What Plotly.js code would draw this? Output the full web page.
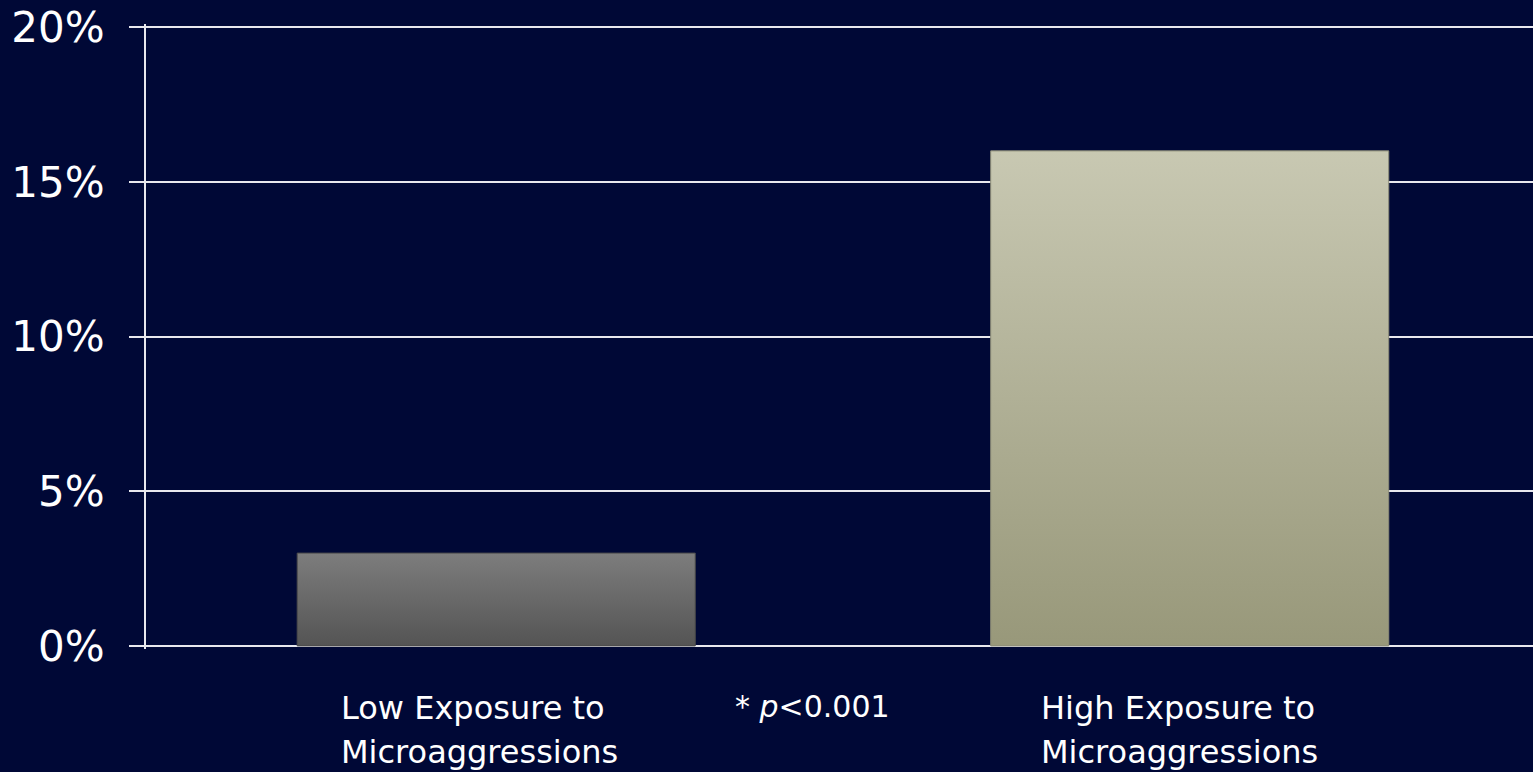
<!DOCTYPE html>
<html>
<head>
<meta charset="utf-8">
<script src="https://cdn.plot.ly/plotly-3.0.1.min.js"></script>
<style>
html,body{margin:0;padding:0;background:#000836;}
#chart{width:1533px;height:772px;}
</style>
</head>
<body>
<div id="chart"></div>
<script>
const categories = ["Low Exposure to<br>Microaggressions", "High Exposure to<br>Microaggressions"];
const values = [3.0, 16.0];
const yTickVals = [0, 5, 10, 15, 20];
const yTickText = ["0%", "5%", "10%", "15%", "20%"];
const note = "* <i>p</i><0.001";

const FONT = "'DejaVu Sans', sans-serif";
const BG = "#000836";
const LINE = "#e8e8ee";
const labelShift = [-157, -151];

const trace = {
  type: "bar",
  x: [0, 1],
  y: values,
  marker: {
    color: ["#6a6a6a", "#b2b29a"],
    line: {color: ["#4a4a4a", "#8a8a76"], width: 1}
  },
  hoverinfo: "skip"
};

const annotations = [];
categories.forEach((c, i) => {
  c.split("<br>").forEach((line, j) => {
    annotations.push({
      xref: "x", yref: "paper",
      x: i, y: 0,
      xanchor: "left", yanchor: "top",
      xshift: labelShift[i], yshift: -38 - 44 * j,
      text: line,
      showarrow: false,
      font: {family: FONT, size: 32, color: "#ffffff"}
    });
  });
});
annotations.push({
  xref: "x", yref: "paper",
  x: 0.5, y: 0,
  xanchor: "left", yanchor: "top",
  xshift: -110, yshift: -38,
  text: note,
  showarrow: false,
  font: {family: FONT, size: 30, color: "#ffffff"}
});

const layout = {
  width: 1533, height: 772,
  paper_bgcolor: BG, plot_bgcolor: BG,
  margin: {l: 146, r: 0, t: 24, b: 123},
  showlegend: false,
  bargap: 0.426,
  xaxis: {
    range: [-0.505, 1.495],
    showticklabels: false,
    showgrid: false, zeroline: false, showline: false, ticks: ""
  },
  yaxis: {
    range: [-0.1, 20.1],
    tickvals: yTickVals, ticktext: yTickText,
    showgrid: true, gridcolor: LINE, gridwidth: 2,
    zeroline: false,
    showline: true, linecolor: LINE, linewidth: 2,
    ticks: "outside", ticklen: 15, tickwidth: 2, tickcolor: LINE,
    ticklabelstandoff: 16,
    tickfont: {family: FONT, size: 42, color: "#ffffff"}
  },
  annotations: annotations
};

Plotly.newPlot("chart", [trace], layout, {staticPlot: true}).then(gd => {
  const svg = gd.querySelector("svg.main-svg");
  const ns = "http://www.w3.org/2000/svg";
  let defs = svg.querySelector("defs");
  if (!defs) { defs = document.createElementNS(ns, "defs"); svg.insertBefore(defs, svg.firstChild); }
  const grads = [
    {id: "gLow", top: "#7d7d7d", bot: "#545454"},
    {id: "gHigh", top: "#c8c8b2", bot: "#98987a"}
  ];
  grads.forEach(g => {
    const lg = document.createElementNS(ns, "linearGradient");
    lg.setAttribute("id", g.id);
    lg.setAttribute("x1", "0"); lg.setAttribute("y1", "0");
    lg.setAttribute("x2", "0"); lg.setAttribute("y2", "1");
    [["0", g.top], ["1", g.bot]].forEach(([o, c]) => {
      const s = document.createElementNS(ns, "stop");
      s.setAttribute("offset", o); s.setAttribute("stop-color", c);
      lg.appendChild(s);
    });
    defs.appendChild(lg);
  });
  const paths = gd.querySelectorAll(".barlayer .point path");
  paths.forEach((p, i) => { p.style.fill = "url(#" + grads[i].id + ")"; });
});
</script>
</body>
</html>
